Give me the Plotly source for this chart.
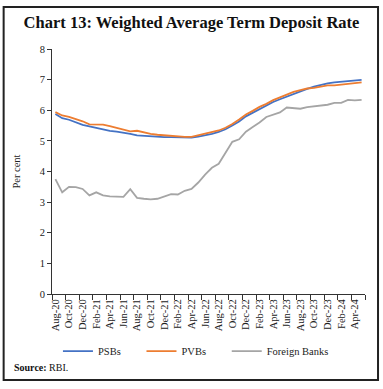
import plotly.graph_objects as go

months = ["Aug-20","Sep-20","Oct-20","Nov-20","Dec-20","Jan-21","Feb-21","Mar-21","Apr-21","May-21","Jun-21","Jul-21",
          "Aug-21","Sep-21","Oct-21","Nov-21","Dec-21","Jan-22","Feb-22","Mar-22","Apr-22","May-22","Jun-22","Jul-22",
          "Aug-22","Sep-22","Oct-22","Nov-22","Dec-22","Jan-23","Feb-23","Mar-23","Apr-23","May-23","Jun-23","Jul-23",
          "Aug-23","Sep-23","Oct-23","Nov-23","Dec-23","Jan-24","Feb-24","Mar-24","Apr-24","May-24"]

psbs = [5.88, 5.74, 5.69, 5.60, 5.52, 5.47, 5.42, 5.37, 5.33, 5.30, 5.27, 5.23,
        5.18, 5.16, 5.14, 5.13, 5.12, 5.12, 5.12, 5.11, 5.11, 5.14, 5.18, 5.23,
        5.29, 5.38, 5.50, 5.63, 5.80, 5.92, 6.04, 6.16, 6.27, 6.36, 6.45, 6.53,
        6.61, 6.70, 6.77, 6.83, 6.88, 6.91, 6.93, 6.95, 6.97, 6.99]

pvbs = [5.94, 5.83, 5.78, 5.72, 5.64, 5.54, 5.54, 5.53, 5.48, 5.43, 5.38, 5.31,
        5.33, 5.27, 5.23, 5.20, 5.18, 5.17, 5.15, 5.13, 5.13, 5.18, 5.23, 5.28,
        5.34, 5.43, 5.55, 5.70, 5.86, 5.98, 6.11, 6.21, 6.33, 6.42, 6.52, 6.60,
        6.66, 6.71, 6.73, 6.77, 6.81, 6.81, 6.83, 6.85, 6.88, 6.91]

foreign = [3.75, 3.32, 3.50, 3.49, 3.43, 3.22, 3.32, 3.22, 3.19, 3.17, 3.17, 3.42,
           3.14, 3.11, 3.09, 3.11, 3.18, 3.26, 3.25, 3.37, 3.43, 3.64, 3.90, 4.12,
           4.25, 4.62, 4.97, 5.05, 5.30, 5.45, 5.60, 5.78, 5.85, 5.93, 6.09, 6.08,
           6.05, 6.10, 6.13, 6.16, 6.18, 6.24, 6.24, 6.34, 6.32, 6.34]

series_names = ["PSBs", "PVBs", "Foreign Banks"]
series_colors = ["#4472C4", "#ED7D31", "#A5A5A5"]

x = list(range(len(months)))
tick_idx = list(range(0, len(months), 2))
tick_text = [months[i] for i in tick_idx]
minor_vals = [i - 0.5 for i in range(0, len(months) + 1, 2)]

serif = "Liberation Serif"
pad = "\u00a0" * 6

fig = go.Figure()
for name, vals, col in zip(series_names, [psbs, pvbs, foreign], series_colors):
    fig.add_trace(go.Scatter(x=x, y=vals, mode="lines", name=name + pad,
                             line=dict(color=col, width=1.8)))

fig.update_layout(
    width=383, height=389,
    margin=dict(l=52, r=18, t=49, b=95),
    paper_bgcolor="white", plot_bgcolor="white",
    font=dict(family=serif, size=10, color="#222"),
    title=dict(text="<b>Chart 13: Weighted Average Term Deposit Rate</b>",
               x=0.5, xanchor="center", y=0.944, yanchor="middle",
               font=dict(family=serif, size=16.5, color="#111")),
    showlegend=True,
    legend=dict(orientation="h", x=0.019, xanchor="left", y=-0.233, yanchor="middle",
                font=dict(family=serif, size=10.5), itemwidth=30,
                bgcolor="rgba(0,0,0,0)"),
)

fig.update_xaxes(
    range=[-0.5, len(months) - 0.5],
    tickmode="array", tickvals=tick_idx, ticktext=tick_text,
    tickangle=-90, ticks="", showgrid=False, zeroline=False,
    showline=True, linecolor="#333", linewidth=1,
    tickfont=dict(family=serif, size=10.5, color="#222"),
    minor=dict(tickmode="array", tickvals=minor_vals, ticks="outside", ticklen=5,
               tickcolor="#333", showgrid=False),
)
fig.update_yaxes(
    range=[0, 8], dtick=1, ticks="outside", ticklen=4, tickcolor="#333",
    showgrid=False, zeroline=False, showline=True, linecolor="#333", linewidth=1,
    tickfont=dict(family=serif, size=10.5, color="#222"),
    title=dict(text="Per cent", font=dict(family=serif, size=10.5), standoff=16),
)

# outer frame
fig.add_shape(type="rect", xref="paper", yref="paper",
              x0=-0.1545, x1=1.0416, y0=-0.351, y1=1.171,
              line=dict(color="#222", width=2), fillcolor="rgba(0,0,0,0)")

fig.add_annotation(text="<b>Source:</b> RBI.", xref="paper", yref="paper",
                   x=-0.128, y=-0.30, xanchor="left", yanchor="middle",
                   showarrow=False, font=dict(family=serif, size=10, color="#111"))

fig.write_html("out.html", config={"displayModeBar": False},
               post_script="document.body.style.margin='0';")
